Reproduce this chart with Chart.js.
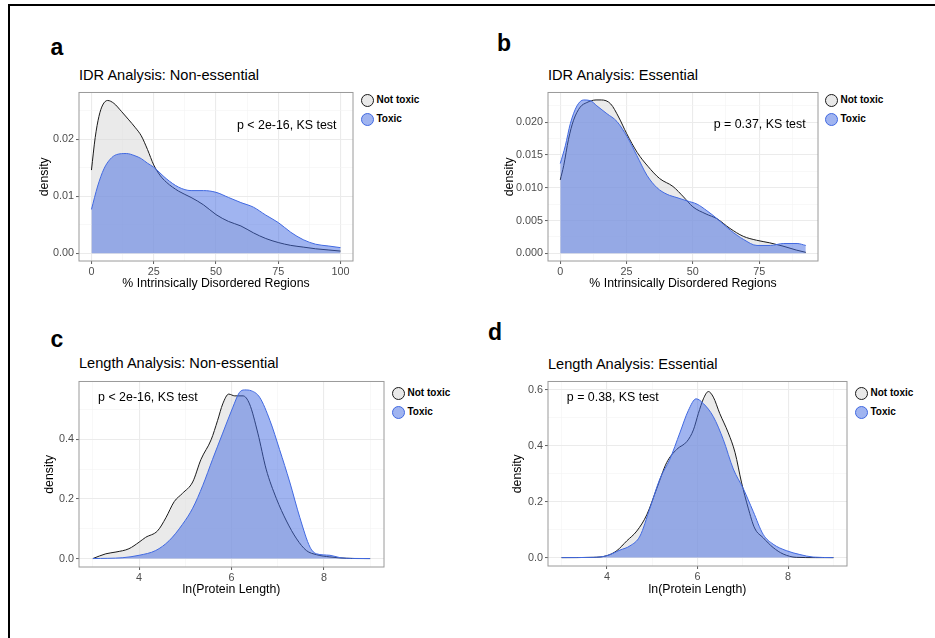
<!DOCTYPE html>
<html>
<head>
<meta charset="utf-8">
<script src="https://cdn.jsdelivr.net/npm/chart.js@4.4.1/dist/chart.umd.min.js"></script>
<style>
  body { margin: 0; background: #fff; width: 935px; height: 638px; overflow: hidden; position: relative;
         font-family: "Liberation Sans", Arial, sans-serif; }
  .frame { position: absolute; left: 8px; top: 4px; width: 1000px; height: 700px;
           border-left: 2.5px solid #000; border-top: 2.5px solid #000; }
  .letter { position: absolute; font-weight: bold; font-size: 23px; line-height: 1; transform: translate(-50%, -50%); }
  .title { position: absolute; font-size: 14.6px; line-height: 1; white-space: nowrap; transform: translateY(-50%); }
  .key { position: absolute; display: flex; align-items: center; white-space: nowrap;
         font-weight: bold; font-size: 10px; line-height: 1; }
  .dot { width: 13px; height: 13px; border-radius: 50%; box-sizing: border-box; margin-right: 3px; }
  canvas { position: absolute; }
</style>
</head>
<body>
<div class="frame"></div>
<script>
// series names
const seriesNames = ['Not toxic', 'Toxic'];

// a: IDR, non-essential
const aNotToxicX = [0, 1.5, 3, 4.5, 6.5, 9, 12, 15, 17.5, 20, 22.5, 25, 27.5, 30, 35, 40, 45, 50, 55, 60, 65, 70, 75, 80, 85, 90, 95, 100];
const aNotToxicY = [0.0146, 0.0203, 0.0240, 0.0260, 0.0268, 0.0263, 0.0249, 0.0234, 0.0221, 0.0206, 0.0182, 0.0155, 0.0137, 0.0125, 0.0109, 0.0098, 0.0085, 0.0068, 0.0056, 0.0048, 0.0036, 0.0026, 0.0019, 0.0014, 0.0011, 0.0008, 0.0006, 0.0004];
const aToxicX = [0, 2.5, 5, 7.5, 10, 14, 17.5, 20, 22.5, 25, 27.5, 30, 35, 40, 45, 50, 55, 60, 65, 70, 75, 80, 85, 90, 95, 100];
const aToxicY = [0.0077, 0.0118, 0.0148, 0.0165, 0.0173, 0.0175, 0.0171, 0.0166, 0.0158, 0.0151, 0.0141, 0.0131, 0.0116, 0.0110, 0.0110, 0.0107, 0.0098, 0.0089, 0.0081, 0.0067, 0.0054, 0.0037, 0.0024, 0.0016, 0.0013, 0.0010];

// b: IDR, essential
const bNotToxicX = [0, 1.3, 3.1, 5, 7.5, 10, 13.5, 15.5, 19, 22, 25, 29, 33, 37.5, 42.5, 46.5, 50, 55, 59, 64, 69, 74, 79, 84, 89, 92.6];
const bNotToxicY = [0.0112, 0.0134, 0.0174, 0.0203, 0.0223, 0.0230, 0.0234, 0.0234, 0.0228, 0.0208, 0.0183, 0.0154, 0.0133, 0.0114, 0.0102, 0.0086, 0.0071, 0.0060, 0.0053, 0.0038, 0.0026, 0.0020, 0.0016, 0.0011, 0.0005, 0.00015];
const bToxicX = [0, 1.9, 3.8, 6.3, 8.8, 11.3, 13.8, 17.6, 21.4, 25.2, 28.9, 32.7, 36.5, 40.3, 44, 47.8, 51.6, 55.3, 59.1, 64.2, 69.2, 74.2, 79.2, 84.3, 89.3, 92.6];
const bToxicY = [0.0137, 0.0164, 0.0198, 0.0225, 0.0234, 0.0233, 0.0225, 0.0213, 0.0201, 0.0178, 0.0149, 0.0119, 0.0100, 0.0090, 0.0085, 0.0080, 0.0075, 0.0065, 0.0053, 0.0035, 0.0021, 0.0012, 0.0012, 0.0015, 0.0015, 0.0012];

// c: length, non-essential
const cNotToxicX = [3, 3.28, 3.5, 3.78, 4.0, 4.14, 4.4, 4.58, 4.76, 4.94, 5.16, 5.34, 5.56, 5.70, 5.81, 5.94, 6.07, 6.25, 6.39, 6.57, 6.75, 6.97, 7.19, 7.41, 7.62, 7.84, 8.13, 8.49, 8.86, 9];
const cNotToxicY = [0, 0.016, 0.022, 0.033, 0.055, 0.071, 0.093, 0.137, 0.191, 0.219, 0.257, 0.333, 0.399, 0.464, 0.519, 0.552, 0.546, 0.546, 0.519, 0.421, 0.300, 0.202, 0.126, 0.066, 0.027, 0.013, 0.0055, 0.001, 0, 0];
const cToxicX = [3, 3.65, 4.0, 4.36, 4.65, 4.94, 5.16, 5.38, 5.59, 5.81, 6.03, 6.17, 6.28, 6.43, 6.61, 6.83, 7.04, 7.26, 7.48, 7.70, 7.84, 8.13, 8.35, 8.6, 9];
const cToxicY = [0, 0.003, 0.011, 0.027, 0.060, 0.115, 0.169, 0.246, 0.333, 0.421, 0.508, 0.557, 0.566, 0.563, 0.541, 0.464, 0.366, 0.257, 0.137, 0.038, 0.016, 0.011, 0.003, 0.0005, 0];

// d: length, essential
const dNotToxicX = [3, 3.7, 4.0, 4.22, 4.44, 4.66, 4.88, 5.10, 5.32, 5.54, 5.77, 5.91, 6.02, 6.13, 6.24, 6.35, 6.49, 6.68, 6.83, 6.97, 7.12, 7.26, 7.45, 7.67, 7.89, 8.18, 8.6, 9];
const dNotToxicY = [0, 0.001, 0.007, 0.025, 0.060, 0.095, 0.153, 0.247, 0.340, 0.387, 0.416, 0.457, 0.516, 0.568, 0.594, 0.574, 0.516, 0.446, 0.375, 0.270, 0.177, 0.106, 0.071, 0.036, 0.013, 0.001, 0, 0];
const dToxicX = [3, 3.7, 4.0, 4.29, 4.51, 4.73, 4.95, 5.17, 5.39, 5.61, 5.80, 5.97, 6.13, 6.35, 6.57, 6.79, 7.01, 7.23, 7.45, 7.67, 7.96, 8.26, 8.55, 9];
const dToxicY = [0, 0.001, 0.007, 0.027, 0.042, 0.077, 0.177, 0.282, 0.352, 0.446, 0.527, 0.568, 0.551, 0.504, 0.422, 0.317, 0.247, 0.165, 0.083, 0.048, 0.025, 0.011, 0.002, 0];

// ticks (major gets a label, minor only a grid line)
const idrXMajor = [0, 25, 50, 75, 100];
const idrXLabels = ['0', '25', '50', '75', '100'];
const idrXMinor = [12.5, 37.5, 62.5, 87.5];
const aYMajor = [0, 0.01, 0.02];
const aYLabels = ['0.00', '0.01', '0.02'];
const aYMinor = [0.005, 0.015, 0.025];
const bXMajor = [0, 25, 50, 75];
const bXLabels = ['0', '25', '50', '75'];
const bYMajor = [0, 0.005, 0.01, 0.015, 0.02];
const bYLabels = ['0.000', '0.005', '0.010', '0.015', '0.020'];
const bYMinor = [0.0025, 0.0075, 0.0125, 0.0175, 0.0225];
const lenXMajor = [4, 6, 8];
const lenXLabels = ['4', '6', '8'];
const lenXMinor = [3, 5, 7, 9];
const cYMajor = [0, 0.2, 0.4];
const cYLabels = ['0.0', '0.2', '0.4'];
const dYMajor = [0, 0.2, 0.4, 0.6];
const dYLabels = ['0.0', '0.2', '0.4', '0.6'];
const lenYMinor = [0.1, 0.3, 0.5];

const panels = [
  { letter: 'a', letterAt: [57, 47], title: 'IDR Analysis: Non-essential', titleY: 75,
    area: [79, 88, 353, 261], xRange: [-5, 105], yRange: [-0.00134, 0.0282],
    series: [[aNotToxicX, aNotToxicY], [aToxicX, aToxicY]],
    xMajor: idrXMajor, xLabels: idrXLabels, xMinor: idrXMinor,
    yMajor: aYMajor, yLabels: aYLabels, yMinor: aYMinor,
    xTitle: '% Intrinsically Disordered Regions', yTitleX: 45, xTitleY: 284,
    note: 'p < 2e-16, KS test', noteAt: [78.4, 0.0224], legend: [367, 100] },
  { letter: 'b', letterAt: [504, 43], title: 'IDR Analysis: Essential', titleY: 75,
    area: [548, 88, 818, 261], xRange: [-4.63, 97.2], yRange: [-0.00117, 0.02454],
    series: [[bNotToxicX, bNotToxicY], [bToxicX, bToxicY]],
    xMajor: bXMajor, xLabels: bXLabels, xMinor: idrXMinor,
    yMajor: bYMajor, yLabels: bYLabels, yMinor: bYMinor,
    xTitle: '% Intrinsically Disordered Regions', yTitleX: 510, xTitleY: 284,
    note: 'p = 0.37, KS test', noteAt: [75.2, 0.01957], legend: [831, 100] },
  { letter: 'c', letterAt: [57, 339], title: 'Length Analysis: Non-essential', titleY: 363,
    area: [79, 377, 384, 567], xRange: [2.7, 9.3], yRange: [-0.0283, 0.5943],
    series: [[cNotToxicX, cNotToxicY], [cToxicX, cToxicY]],
    xMajor: lenXMajor, xLabels: lenXLabels, xMinor: lenXMinor,
    yMajor: cYMajor, yLabels: cYLabels, yMinor: lenYMinor,
    xTitle: 'ln(Protein Length)', yTitleX: 49.5, xTitleY: 590,
    note: 'p < 2e-16, KS test', noteAt: [4.19, 0.541], legend: [398, 393] },
  { letter: 'd', letterAt: [495, 332], title: 'Length Analysis: Essential', titleY: 364,
    area: [548, 377, 847, 566], xRange: [2.7, 9.3], yRange: [-0.030, 0.630],
    series: [[dNotToxicX, dNotToxicY], [dToxicX, dToxicY]],
    xMajor: lenXMajor, xLabels: lenXLabels, xMinor: lenXMinor,
    yMajor: dYMajor, yLabels: dYLabels, yMinor: lenYMinor,
    xTitle: 'ln(Protein Length)', yTitleX: 518, xTitleY: 589.5,
    note: 'p = 0.38, KS test', noteAt: [4.13, 0.574], legend: [861, 393] }
];

const styles = [
  { line: '#1a1a1a', fill: 'rgba(217,217,217,0.55)', dot: '#e9e9e9' },
  { line: '#4169e1', fill: 'rgba(65,105,225,0.5)', dot: '#a0b4f0' }
];

const AXIS_W = 52, AXIS_H = 34, PAD_T = 4, PAD_R = 4;
const FONT = '"Liberation Sans", Arial, sans-serif';
const TITLE_LH = 12.3 * 1.2;

// annotation text + ggplot-style panel border
const panelDecor = {
  id: 'panelDecor',
  afterDatasetsDraw(chart, args, opts) {
    const { ctx, scales: { x, y } } = chart;
    ctx.save();
    ctx.font = '12.4px ' + FONT;
    ctx.fillStyle = '#000';
    ctx.textAlign = 'center';
    ctx.textBaseline = 'middle';
    ctx.fillText(opts.text, x.getPixelForValue(opts.at[0]), y.getPixelForValue(opts.at[1]));
    ctx.restore();
  },
  afterDraw(chart) {
    const { ctx, chartArea: a } = chart;
    ctx.save();
    ctx.strokeStyle = '#9a9a9a';
    ctx.lineWidth = 1;
    ctx.strokeRect(a.left, a.top, a.right - a.left, a.bottom - a.top);
    ctx.restore();
  }
};

function near(list, v) {
  return list.findIndex((m) => Math.abs(m - v) < 1e-9);
}

function axis(range, major, labels, minor, extra) {
  const all = major.concat(minor).sort((p, q) => p - q);
  return Object.assign({
    type: 'linear', min: range[0], max: range[1],
    afterBuildTicks: (s) => { s.ticks = all.map((v) => ({ value: v })); },
    ticks: {
      autoSkip: false, maxRotation: 0, padding: 2, color: '#4d4d4d',
      font: { family: FONT, size: 10.8 },
      callback: (v) => { const i = near(major, v); return i < 0 ? '' : labels[i]; }
    },
    grid: {
      color: (c) => near(major, c.tick.value) < 0 ? '#f3f3f3' : '#ebebeb',
      lineWidth: (c) => near(major, c.tick.value) < 0 ? 0.6 : 1.1,
      tickColor: (c) => near(major, c.tick.value) < 0 ? 'rgba(0,0,0,0)' : '#333333',
      tickLength: 3, tickWidth: 0.8
    },
    border: { display: false }
  }, extra);
}

function addText(cls, text, left, top) {
  const el = document.createElement('div');
  el.className = cls;
  el.textContent = text;
  el.style.left = left + 'px';
  el.style.top = top + 'px';
  document.body.appendChild(el);
  return el;
}

panels.forEach((p) => {
  addText('letter', p.letter, p.letterAt[0], p.letterAt[1]);
  addText('title', p.title, p.area[0], p.titleY);

  seriesNames.forEach((name, i) => {
    const key = document.createElement('div');
    key.className = 'key';
    key.style.left = (p.legend[0] - 6.5) + 'px';
    key.style.top = (p.legend[1] + i * 19 - 6.5) + 'px';
    const dot = document.createElement('div');
    dot.className = 'dot';
    dot.style.background = styles[i].dot;
    dot.style.border = '1px solid ' + styles[i].line;
    key.appendChild(dot);
    key.appendChild(document.createTextNode(name));
    document.body.appendChild(key);
  });

  const left = p.area[0] - AXIS_W, top = p.area[1] - PAD_T;
  const w = p.area[2] - p.area[0] + AXIS_W + PAD_R;
  const h = p.area[3] - p.area[1] + PAD_T + AXIS_H;
  const canvas = document.createElement('canvas');
  canvas.width = w; canvas.height = h;
  canvas.style.left = left + 'px'; canvas.style.top = top + 'px';
  canvas.style.width = w + 'px'; canvas.style.height = h + 'px';
  document.body.appendChild(canvas);

  const datasets = p.series.map(([xs, ys], i) => ({
    label: seriesNames[i],
    data: xs.map((x, k) => ({ x, y: ys[k] })),
    borderColor: styles[i].line,
    backgroundColor: styles[i].fill,
    borderWidth: 1,
    fill: { value: 0 },
    pointRadius: 0,
    cubicInterpolationMode: 'monotone',
    order: 1 - i
  }));

  new Chart(canvas, {
    type: 'line',
    data: { datasets },
    options: {
      responsive: false, animation: false, devicePixelRatio: 1,
      layout: { padding: { top: PAD_T, right: PAD_R, left: 0, bottom: 0 } },
      plugins: { legend: { display: false }, tooltip: { enabled: false },
                 panelDecor: { text: p.note, at: p.noteAt } },
      scales: {
        x: axis(p.xRange, p.xMajor, p.xLabels, p.xMinor, {
          afterFit: (s) => { s.height = AXIS_H; },
          title: { display: true, text: p.xTitle, color: '#000', font: { family: FONT, size: 12.3 },
                   padding: { top: 0, bottom: AXIS_H - (p.xTitleY - p.area[3]) - TITLE_LH / 2 } }
        }),
        y: axis(p.yRange, p.yMajor, p.yLabels, p.yMinor, {
          afterFit: (s) => { s.width = AXIS_W; },
          title: { display: true, text: 'density', color: '#000', font: { family: FONT, size: 12.3 },
                   padding: { top: p.yTitleX - left - TITLE_LH / 2, bottom: 0 } }
        })
      }
    },
    plugins: [panelDecor]
  });
});
</script>
</body>
</html>
